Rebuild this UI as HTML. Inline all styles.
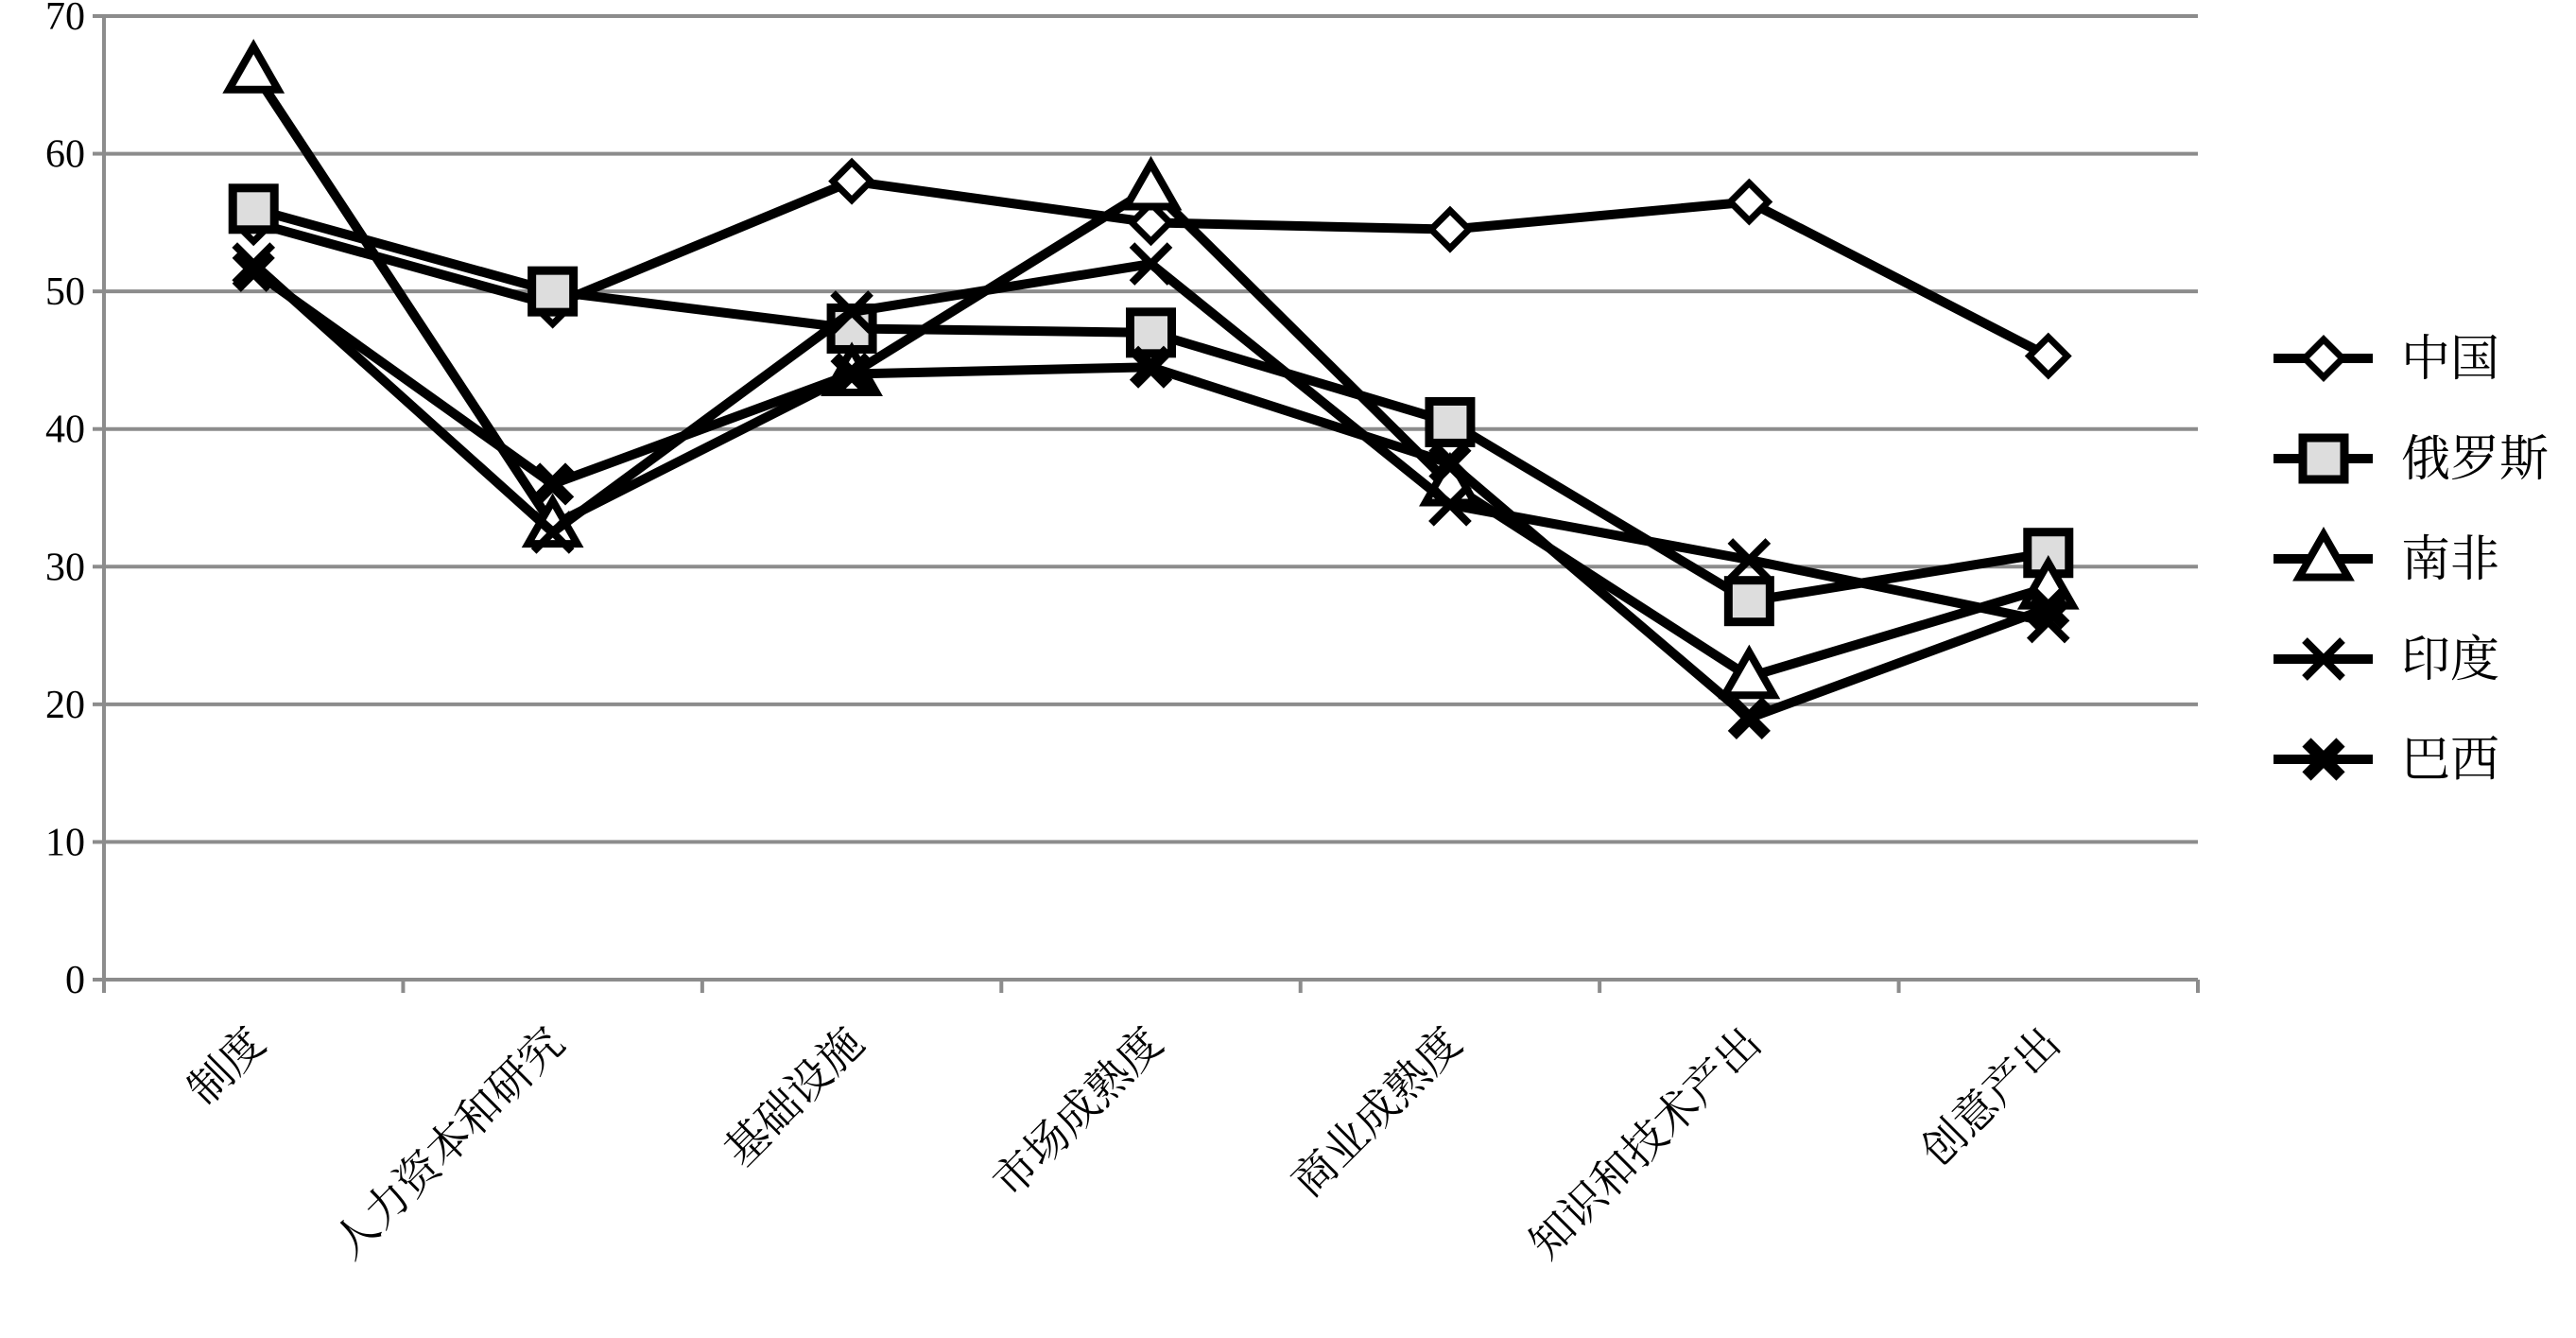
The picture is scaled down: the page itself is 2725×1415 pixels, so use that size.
<!DOCTYPE html>
<html><head><meta charset="utf-8"><style>
html,body{margin:0;padding:0;background:#fff;}
svg{display:block;font-family:"Liberation Serif","Noto Serif CJK SC",serif;}
</style></head><body>
<svg id="chart" width="2725" height="1415" viewBox="0 0 2725 1415" xmlns="http://www.w3.org/2000/svg"></svg>
<script>
const categories = ["制度","人力资本和研究","基础设施","市场成熟度","商业成熟度","知识和技术产出","创意产出"];
const seriesNames = ["中国","俄罗斯","南非","印度","巴西"];
const chinaValues = [55,49,58,55,54.5,56.5,45.3];
const russiaValues = [56,50,47.3,47,40.5,27.5,31];
const southAfricaValues = [66,33,44,57.5,36,22,28.5];
const indiaValues = [52,32.5,48.5,52,34.5,30.5,26];
const brazilValues = [51.5,36,44,44.5,37.5,19,27];
const yTicks = [0,10,20,30,40,50,60,70];

const svg = document.getElementById('chart');
const NS = 'http://www.w3.org/2000/svg';
const L = 110, R = 2325, T = 17, B = 1036, yMax = 70;
const n = categories.length;
const band = (R - L) / n;
const xPos = i => L + band * (i + 0.5);
const yPos = v => B - (v / yMax) * (B - T);
function mk(tag, attrs, parent){ const e = document.createElementNS(NS, tag); for (const k in attrs) e.setAttribute(k, attrs[k]); (parent||svg).appendChild(e); return e; }

// grid & y ticks
yTicks.forEach(t => {
  const y = yPos(t);
  if (t > 0) {
    const g = mk('line', {x1:L, x2:R, y1:y, y2:y, stroke:'#8c8c8c', 'stroke-width':4});
    
    
  }
  const tk = mk('line', {x1:L-12, x2:L, y1:y, y2:y, stroke:'#8c8c8c', 'stroke-width':4});
  
  
  const tx = mk('text', {x:L-20, y:y+14, 'text-anchor':'end', 'font-size':42, fill:'#000'});
  tx.textContent = t;
  
  
});
const yAxis = mk('line', {x1:L, x2:L, y1:T, y2:B, stroke:'#8c8c8c', 'stroke-width':4});


const xAxis = mk('line', {x1:L, x2:R, y1:B, y2:B, stroke:'#8c8c8c', 'stroke-width':4});


for (let i = 0; i <= n; i++) {
  const x = L + band * i;
  const tk = mk('line', {x1:x, x2:x, y1:B, y2:B+14, stroke:'#8c8c8c', 'stroke-width':4});
  
  
}
categories.forEach((c, i) => {
  const x = xPos(i) + 15, y = B + 70;
  const tx = mk('text', {x:x, y:y, 'text-anchor':'end', 'font-size':46, fill:'#000', transform:`rotate(-45 ${x} ${y})`});
  tx.textContent = c;
  
  
});

function marker(type, x, y, parent){
  let e;
  if (type === 'diamond') {
    const s = 20;
    e = mk('polygon', {points:`${x},${y-s} ${x+s},${y} ${x},${y+s} ${x-s},${y}`, fill:'#fff', stroke:'#000', 'stroke-width':7}, parent);
  } else if (type === 'square') {
    const s = 22;
    e = mk('rect', {x:x-s, y:y-s, width:2*s, height:2*s, fill:'#ddd', stroke:'#000', 'stroke-width':9}, parent);
  } else if (type === 'triangle') {
    const s = 26;
    e = mk('polygon', {points:`${x},${y-s} ${x+s},${y+s*0.75} ${x-s},${y+s*0.75}`, fill:'#fff', stroke:'#000', 'stroke-width':8}, parent);
  } else {
    const s = type === 'xbold' ? 18 : 20;
    const w = type === 'xbold' ? 13 : 8;
    e = mk('path', {d:`M${x-s},${y-s}L${x+s},${y+s}M${x+s},${y-s}L${x-s},${y+s}`, stroke:'#000', 'stroke-width':w, fill:'none'}, parent);
  }
  
  
}

const allSeries = [chinaValues, russiaValues, southAfricaValues, indiaValues, brazilValues];
const markerTypes = ['diamond','square','triangle','x','xbold'];
allSeries.forEach((vals, si) => {
  const g = mk('g', {});
  
  
  const p = mk('polyline', {points: vals.map((v,i)=>`${xPos(i)},${yPos(v)}`).join(' '), fill:'none', stroke:'#000', 'stroke-width':10, 'stroke-linejoin':'round'}, g);
  
  
  vals.forEach((v,i) => marker(markerTypes[si], xPos(i), yPos(v), g));
});

// legend
seriesNames.forEach((nm, i) => {
  const y = 379 + i * 106;
  const g = mk('g', {});
  
  
  const ln = mk('line', {x1:2405, x2:2510, y1:y, y2:y, stroke:'#000', 'stroke-width':10}, g);
  
  
  marker(markerTypes[i], 2458, y, g);
  const tx = mk('text', {x:2540, y:y+18, 'font-size':52, fill:'#000'}, g);
  tx.textContent = nm;
  
  
});
</script>
</body></html>
